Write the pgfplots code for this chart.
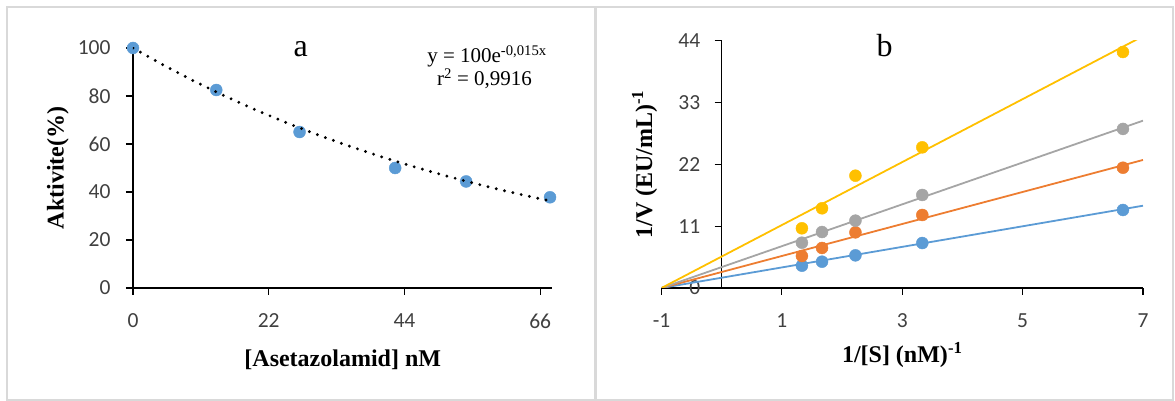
\documentclass[border=0pt]{standalone}
\usepackage{fontspec}
\setmainfont{Liberation Serif}
\newfontfamily\carlito{Carlito}
\usepackage{pgfplots}
\pgfplotsset{compat=1.18}
\definecolor{xlblue}{HTML}{5B9BD5}
\definecolor{xlorange}{HTML}{ED7D31}
\definecolor{xlgray}{HTML}{A5A5A5}
\definecolor{xlyellow}{HTML}{FFC000}
\definecolor{framegray}{HTML}{D9D9D9}
\definecolor{ticktext}{HTML}{404040}
\pgfplotstableread{
x y
0 100
13.5 82.5
27 65
42.5 50
54 44.4
67.6 37.8
}\aktivite
\pgfplotstableread{
x y
0 100
5 92.77
10 86.07
15 79.85
20 74.08
25 68.73
30 63.76
35 59.16
40 54.88
45 50.92
50 47.24
55 43.82
60 40.66
65 37.72
67.6 36.28
}\trend
\pgfplotstableread{
x blue orange gray yellow
1.333 3.97 5.69 8.06 10.62
1.667 4.68 7.12 9.96 14.18
2.222 5.81 9.90 11.98 19.98
3.333 8.00 12.99 16.55 25.03
6.667 13.88 21.40 28.30 41.99
}\lb
\pgfplotstableread{
x blue orange gray yellow
-1 0 0 0 0
7 14.64 22.78 29.77 44.8
}\lbfit
\begin{document}
\begin{tikzpicture}
\useasboundingbox (0,0) rectangle (1175pt,401pt);
\draw[color=framegray, line width=1.5pt] (7pt,1pt) rectangle (1173pt,394pt);
\draw[color=framegray, line width=3pt] (595pt,1pt) -- (595pt,394pt);

\begin{axis}[
  at={(133pt,113pt)}, anchor=south west, scale only axis,
  width=419.5pt, height=240pt,
  xmin=0, xmax=68, ymin=0, ymax=100,
  axis x line*=bottom, axis y line*=left,
  xtick={0,22,44,66}, ytick={0,20,40,60,80,100},
  tick align=outside, major tick length=7pt,
  tick style={black, line width=1.2pt},
  axis line style={black, line width=1.4pt},
  tick label style={font=\carlito\fontsize{21.5}{24}\selectfont, text=ticktext},
  yticklabel style={xshift=-12pt},
  xticklabel style={yshift=-15pt},
  /pgf/number format/assume math mode=true,
  every axis y label/.style={at={(axis description cs:-0.179,0.5)}, rotate=90, anchor=center},
  every axis x label/.style={at={(axis description cs:0.5,-0.329)}, anchor=base},
  label style={font=\fontsize{24}{28}\selectfont\bfseries},
  xlabel={{[}Asetazolamid{]} nM}, ylabel={Aktivite(\%)},
  clip mode=individual,
]
\addplot[only marks, mark=*, mark size=6pt, color=xlblue] table[x=x,y=y] {\aktivite};
\addplot[black, line width=3.2pt, line cap=round, dash pattern=on 0pt off 8.5pt] table[x=x,y=y] {\trend};
\end{axis}
\node[anchor=base, font=\fontsize{32}{36}\selectfont] at (300.7pt,344.3pt) {a};
\node[anchor=base, font=\fontsize{21}{24}\selectfont] at (487pt,338pt) {y = 100e\textsuperscript{-0,015x}};
\node[anchor=base, font=\fontsize{21}{24}\selectfont] at (484.5pt,315pt) {r\textsuperscript{2} = 0,9916};

\begin{axis}[
  at={(661.5pt,113pt)}, anchor=south west, scale only axis,
  width=481.5pt, height=247.3pt,
  xmin=-1, xmax=7, ymin=0, ymax=44,
  axis x line=bottom, axis y line=middle,
  axis line style={-, black, line width=1.4pt},
  x axis line style={-}, y axis line style={-},
  hide obscured y ticks=false, hide obscured x ticks=false,
  xtick={-1,1,3,5,7}, ytick={0,11,22,33,44},
  tick align=outside, major tick length=7pt,
  tick style={black, line width=1.2pt},
  tick label style={font=\carlito\fontsize{21.5}{24}\selectfont, text=ticktext},
  yticklabel style={xshift=-11pt},
  xticklabel style={yshift=-15pt},
  /pgf/number format/assume math mode=true,
  every axis y label/.style={at={(axis description cs:-0.035,0.5)}, rotate=90, anchor=center},
  every axis x label/.style={at={(axis description cs:0.5,-0.303)}, anchor=base},
  label style={font=\fontsize{24}{28}\selectfont\bfseries},
  xlabel={1/{[}S{]} (nM)\textsuperscript{-1}}, ylabel={1/V (EU/mL)\textsuperscript{-1}},
  clip mode=individual,
]
\addplot[xlblue, line width=1.8pt] table[x=x,y=blue] {\lbfit};
\addplot[xlorange, line width=1.8pt] table[x=x,y=orange] {\lbfit};
\addplot[xlgray, line width=1.8pt] table[x=x,y=gray] {\lbfit};
\addplot[xlyellow, line width=1.8pt] table[x=x,y=yellow] {\lbfit};
\addplot[only marks, mark=*, mark size=6pt, color=xlblue] table[x=x,y=blue] {\lb};
\addplot[only marks, mark=*, mark size=6pt, color=xlorange] table[x=x,y=orange] {\lb};
\addplot[only marks, mark=*, mark size=6pt, color=xlgray] table[x=x,y=gray] {\lb};
\addplot[only marks, mark=*, mark size=6pt, color=xlyellow] table[x=x,y=yellow] {\lb};
\end{axis}
\node[anchor=base, font=\fontsize{32}{36}\selectfont] at (884.7pt,344.3pt) {b};
\end{tikzpicture}
\end{document}
